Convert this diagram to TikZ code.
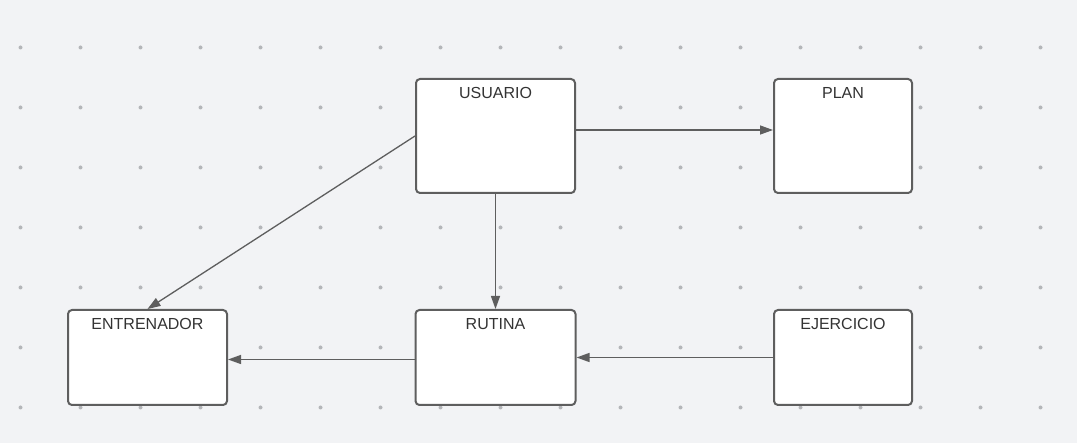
\documentclass[tikz,border=0pt]{standalone}
\usepackage{fontspec}
\setmainfont{Liberation Sans}
\usetikzlibrary{arrows.meta}
\definecolor{canvas}{HTML}{F2F3F5}
\definecolor{griddot}{HTML}{B4B6B9}
\definecolor{edge}{HTML}{5E5E5E}

\begin{document}
\begin{tikzpicture}[x=1pt, y=-1pt,
		entity/.style={draw=edge, line width=2pt, fill=white, rounded corners=4pt,
				minimum width=#1, inner sep=0pt},
		entity/.default=159pt,
		title/.style={anchor=north, inner sep=6pt, yshift=-3pt, font=\fontsize{16}{18}\selectfont, text=black!80},
		link/.style={draw=edge, line width=1.3pt, -{Triangle[length=13pt, width=9pt]}}]
		% Canvas and dot grid
		\fill[canvas] (0,0) rectangle (1077,443);
		\useasboundingbox (0,0) rectangle (1077,443);
		\foreach \i in {0,...,17} {
				\foreach \j in {0,...,6} {
						\fill[griddot] (20.5+60*\i, 47.5+60*\j) circle (2pt);
					}
			}

		% Entities
		\node[entity, minimum height=114pt, label={[title]north:USUARIO}] (usuario) at (495.5,136) {};
		\node[entity=138pt, minimum height=114pt, label={[title]north:PLAN}] (plan) at (843,136) {};
		\node[entity, minimum height=95pt, label={[title]north:ENTRENADOR}] (entrenador) at (147.5,357.5) {};
		\node[entity=160pt, minimum height=95pt, label={[title]north:RUTINA}] (rutina) at (495.5,357.5) {};
		\node[entity=138pt, minimum height=95pt, label={[title]north:EJERCICIO}] (ejercicio) at (843,357.5) {};

		% Relations
		\draw[link] ([yshift=6pt]usuario.east) -- ([yshift=6pt]plan.west);
		\draw[link] (usuario.west) -- (entrenador.north);
		\draw[link] (usuario.south) -- (rutina.north);
		\draw[link] ([yshift=-2pt]rutina.west) -- ([yshift=-2pt]entrenador.east);
		\draw[link] (ejercicio.west) -- (rutina.east);
	\end{tikzpicture}
\end{document}
